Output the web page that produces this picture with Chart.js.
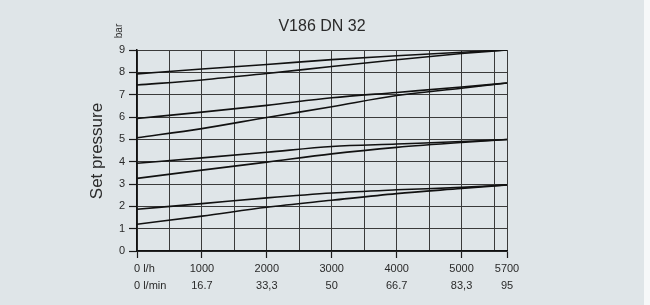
<!DOCTYPE html>
<html>
<head>
<meta charset="utf-8">
<script src="https://cdn.jsdelivr.net/npm/chart.js@4.4.0/dist/chart.umd.min.js"></script>
<style>
    html, body { margin: 0; padding: 0; background: #ffffff; }
    canvas { display: block; }
</style>
</head>
<body>
<canvas id="setPressure" width="650" height="305"></canvas>
<script>
// flujo en l/h (eje x)
const flow = [0, 1000, 2000, 3000, 4000, 5000, 5700];
const flowLabelsLh = ['0 l/h', '1000', '2000', '3000', '4000', '5000', '5700'];
const flowLabelsLmin = ['0 l/min', '16.7', '33,3', '50', '66.7', '83,3', '95'];
const pressureTicks = [0, 1, 2, 3, 4, 5, 6, 7, 8, 9];

// curvas de presion (bar)
const curve9Top = [7.93, 8.15, 8.35, 8.57, 8.74, 8.9, 9.0];
const curve9Low = [7.43, 7.66, 7.95, 8.26, 8.56, 8.84, 9.0];
const curve75Top = [5.93, 6.22, 6.52, 6.86, 7.1, 7.34, 7.52];
const curve75Low = [5.07, 5.48, 5.98, 6.46, 6.96, 7.29, 7.52];
const curve5Top = [3.93, 4.17, 4.42, 4.68, 4.79, 4.9, 4.99];
const curve5Low = [3.25, 3.62, 3.98, 4.35, 4.64, 4.86, 4.99];
const curve3Top = [1.87, 2.12, 2.38, 2.6, 2.74, 2.85, 2.96];
const curve3Low = [1.2, 1.56, 1.96, 2.27, 2.57, 2.8, 2.96];

const curves = [curve9Top, curve9Low, curve75Top, curve75Low, curve5Top, curve5Low, curve3Top, curve3Low];

function toPoints(values) {
    return values.map(function (v, i) {
        return { x: flow[i], y: v };
    });
}

const fontFamily = '"Liberation Sans", Arial, sans-serif';
const textColor = '#2a2a2a';

// fondo, titulos y etiquetas de dos lineas
const decoration = {
    id: 'decoration',
    beforeDraw(chart) {
        const c = chart.ctx;
        c.save();
        c.fillStyle = '#dfe5e8';
        c.fillRect(0, 0, chart.width, chart.height);
        c.fillStyle = '#f6f8f9';
        c.fillRect(644, 0, chart.width - 644, chart.height);
        c.restore();
    },
    afterDraw(chart) {
        const c = chart.ctx;
        const area = chart.chartArea;
        const xs = chart.scales.x;
        c.save();
        c.fillStyle = textColor;

        // titulo
        c.font = '16px ' + fontFamily;
        c.textAlign = 'center';
        c.textBaseline = 'middle';
        c.fillText('V186 DN 32', (area.left + area.right) / 2, 27);

        // etiquetas eje x
        c.font = '11px ' + fontFamily;
        c.textBaseline = 'middle';
        for (let i = 0; i < flow.length; i++) {
            const px = xs.getPixelForValue(flow[i]);
            if (i === 0) {
                c.textAlign = 'left';
                c.fillText(flowLabelsLh[i], px - 3, 269);
                c.fillText(flowLabelsLmin[i], px - 3, 285.5);
            } else {
                c.textAlign = 'center';
                c.fillText(flowLabelsLh[i], px, 269);
                c.fillText(flowLabelsLmin[i], px, 285.5);
            }
        }

        // titulo eje y
        c.save();
        c.translate(97, 151);
        c.rotate(-Math.PI / 2);
        c.textAlign = 'center';
        c.font = '17px ' + fontFamily;
        c.fillText('Set pressure', 0, 0);
        c.restore();

        c.save();
        c.translate(119, 31);
        c.rotate(-Math.PI / 2);
        c.textAlign = 'center';
        c.font = '10px ' + fontFamily;
        c.fillText('bar', 0, 0);
        c.restore();

        c.restore();
    }
};

let ctx = document.getElementById('setPressure');
new Chart(ctx, {
    type: 'line',
    data: {
        datasets: curves.map(function (values) {
            return {
                data: toPoints(values),
                borderColor: '#111111',
                borderWidth: 1.6,
                pointRadius: 0,
                fill: false,
                cubicInterpolationMode: 'monotone',
            };
        }),
    },
    options: {
        responsive: false,
        animation: false,
        layout: { padding: { top: 50, right: 143, bottom: 0, left: 0 } },
        plugins: {
            legend: { display: false },
            tooltip: { enabled: false },
        },
        scales: {
            x: {
                type: 'linear',
                min: 0,
                max: 5700,
                afterBuildTicks: function (scale) {
                    let t = [];
                    for (let v = 0; v <= 5500; v += 500) t.push({ value: v });
                    t.push({ value: 5700 });
                    scale.ticks = t;
                },
                afterFit: function (scale) { scale.height = 54; },
                ticks: { display: false },
                grid: {
                    color: '#3a3a3a',
                    lineWidth: 1,
                    tickLength: 7,
                    tickWidth: 1.2,
                    tickColor: function (c) {
                        const v = c.tick ? c.tick.value : -1;
                        return (flow.indexOf(v) >= 0) ? '#1a1a1a' : 'rgba(0,0,0,0)';
                    },
                },
                border: { display: true, color: '#111111', width: 1.5 },
            },
            y: {
                min: 0,
                max: 9,
                afterBuildTicks: function (scale) {
                    let t = [];
                    for (let v = 0; v <= 9; v += 0.5) t.push({ value: v });
                    scale.ticks = t;
                },
                afterFit: function (scale) { scale.width = 137; },
                ticks: {
                    padding: 4,
                    color: textColor,
                    font: { family: fontFamily, size: 11 },
                    callback: function (v) {
                        return pressureTicks.indexOf(v) >= 0 ? String(v) : '';
                    },
                },
                grid: {
                    color: '#3a3a3a',
                    lineWidth: 1,
                    tickLength: 8,
                    tickWidth: 1.2,
                    tickColor: function (c) {
                        const v = c.tick ? c.tick.value : -1;
                        return (pressureTicks.indexOf(v) >= 0) ? '#1a1a1a' : 'rgba(0,0,0,0)';
                    },
                },
                border: { display: true, color: '#111111', width: 1.5 },
            },
        },
    },
    plugins: [decoration],
});
</script>
</body>
</html>
